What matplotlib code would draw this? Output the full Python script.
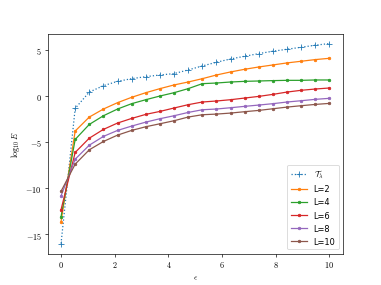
import matplotlib
matplotlib.use("Agg")
import matplotlib.pyplot as plt
from matplotlib.ticker import FuncFormatter
import numpy as np

plt.rcParams['mathtext.fontset'] = 'cm'

eps = np.linspace(0, 10, 20)

T_lam = [-16.0, -1.34, 0.43, 1.12, 1.59, 1.88, 2.1, 2.28, 2.43, 2.83,
         3.26, 3.66, 4.02, 4.31, 4.6, 4.86, 5.07, 5.29, 5.51, 5.69]
L2 = [-13.62, -3.8, -2.28, -1.41, -0.72, -0.14, 0.36, 0.8, 1.2, 1.52,
      1.88, 2.28, 2.61, 2.9, 3.15, 3.37, 3.59, 3.77, 3.95, 4.09]
L4 = [-13.08, -4.71, -3.08, -2.14, -1.41, -0.83, -0.4, 0.0, 0.36, 0.8,
      1.34, 1.41, 1.52, 1.59, 1.63, 1.67, 1.7, 1.7, 1.74, 1.74]
L6 = [-12.32, -6.12, -4.57, -3.62, -2.93, -2.43, -1.99, -1.67, -1.3, -0.94,
      -0.65, -0.54, -0.4, -0.22, -0.04, 0.18, 0.43, 0.62, 0.76, 0.87]
L8 = [-10.83, -6.85, -5.33, -4.38, -3.73, -3.26, -2.83, -2.46, -2.14, -1.78,
      -1.49, -1.41, -1.27, -1.12, -0.98, -0.83, -0.65, -0.51, -0.36, -0.25]
L10 = [-10.33, -7.39, -5.83, -4.93, -4.24, -3.73, -3.33, -3.01, -2.68, -2.28,
       -2.03, -1.96, -1.85, -1.7, -1.56, -1.38, -1.2, -1.05, -0.91, -0.8]

series = [("L=2", L2), ("L=4", L4), ("L=6", L6), ("L=8", L8), ("L=10", L10)]

fig, ax = plt.subplots(figsize=(6.4, 4.8), dpi=381 / 6.4)
ax.plot(eps, T_lam, ':', marker='+', markersize=8, label=r'$\mathcal{T}_\lambda$')
for name, vals in series:
    ax.plot(eps, vals, '-', marker='.', label=name)

# serif tick labels, like the original
tex = FuncFormatter(lambda v, p: r'$%g$' % v)
ax.xaxis.set_major_formatter(tex)
ax.yaxis.set_major_formatter(tex)

ax.set_xlabel(r'$\epsilon$')
ax.set_ylabel(r'$\log_{10} E$')
ax.legend(loc='lower right')

fig.savefig('out.png', dpi=381 / 6.4)
